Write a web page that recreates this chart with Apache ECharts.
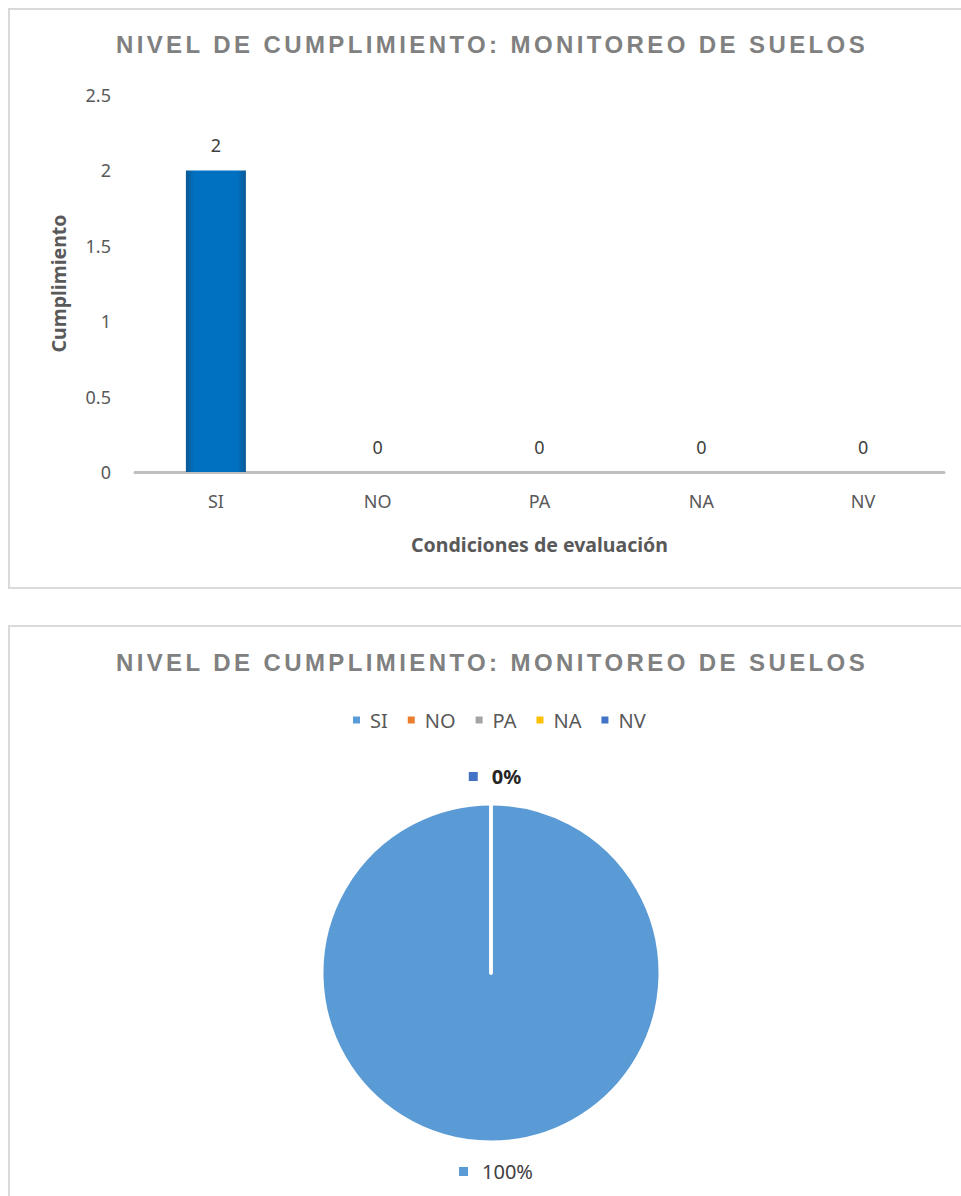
<!DOCTYPE html>
<html><head><meta charset="utf-8">
<script src="https://cdn.jsdelivr.net/npm/echarts@6/dist/echarts.min.js"></script>
<style>
html,body{margin:0;padding:0;background:#fff;width:961px;height:1196px;overflow:hidden}
#bar{position:absolute;left:0;top:0;width:961px;height:600px}
#pie{position:absolute;left:0;top:600px;width:961px;height:596px}
</style></head>
<body><div id="bar"></div><div id="pie"></div>
<script>
const TITLE = 'NIVEL DE CUMPLIMIENTO: MONITOREO DE SUELOS';
const categories = ['SI', 'NO', 'PA', 'NA', 'NV'];
const values = [2, 0, 0, 0, 0];
const yAxisMin = 0, yAxisMax = 2.5, yAxisStep = 0.5;
const xAxisName = 'Condiciones de evaluación';
const yAxisName = 'Cumplimiento';
const pieColors = ['#5b9bd5', '#ed7d31', '#a5a5a5', '#ffc000', '#4472c4'];
const pieLabelShown = [true, false, false, false, true];

const FONT = 'Noto Sans';
const TITLE_FONT = '"Liberation Sans Narrow", "Liberation Sans", sans-serif';

const bar = echarts.init(document.getElementById('bar'), null, {renderer: 'svg'});
bar.setOption({
  animation: false,
  textStyle: {fontFamily: FONT},
  title: {
    text: TITLE, left: 492, top: 32, padding: 0, textAlign: 'center',
    textStyle: {fontFamily: TITLE_FONT, fontSize: 24, fontWeight: 'bold', color: '#808080'}
  },
  graphic: [{type: 'rect', silent: true, z: -10,
    shape: {x: 9, y: 9, width: 1000, height: 579},
    style: {fill: 'none', stroke: '#d9d9d9', lineWidth: 2}}],
  grid: {left: 135, right: 17, top: 95, bottom: 128},
  xAxis: {
    type: 'category', data: categories,
    axisLine: {lineStyle: {color: '#bfbfbf', width: 3}},
    axisTick: {show: false},
    axisLabel: {fontSize: 18, color: '#595959', margin: 20, fontFamily: FONT},
    name: xAxisName, nameLocation: 'middle', nameGap: 62,
    nameTextStyle: {fontSize: 19.5, fontWeight: 'bold', color: '#595959', fontFamily: FONT}
  },
  yAxis: {
    type: 'value', min: yAxisMin, max: yAxisMax, interval: yAxisStep,
    axisLine: {show: false}, axisTick: {show: false}, splitLine: {show: false},
    axisLabel: {fontSize: 18, color: '#595959', margin: 24, fontFamily: FONT},
    name: yAxisName, nameLocation: 'middle', nameGap: 67, nameRotate: 90,
    nameTextStyle: {fontSize: 19.5, fontWeight: 'bold', color: '#595959', fontFamily: FONT}
  },
  series: [{
    type: 'bar', data: values, barWidth: 60,
    itemStyle: {
      color: new echarts.graphic.LinearGradient(0, 0, 1, 0, [
        {offset: 0, color: '#0b5896'},
        {offset: 0.14, color: '#0070c0'},
        {offset: 0.86, color: '#0070c0'},
        {offset: 1, color: '#0b5896'}
      ])
    },
    label: {show: true, position: 'top', distance: 16, fontSize: 18, color: '#404040', fontFamily: FONT},
    emphasis: {disabled: true}
  }]
});

const pie = echarts.init(document.getElementById('pie'), null, {renderer: 'svg'});
const rich = {
  t: {fontSize: 20, color: '#404040', padding: [0, 0, 0, 14], fontFamily: FONT},
  tb: {fontSize: 20, color: '#262626', fontWeight: 'bold', padding: [0, 0, 0, 14], fontFamily: FONT}
};
pieColors.forEach((c, i) => { rich['m' + i] = {width: 9, height: 9, backgroundColor: c}; });
pie.setOption({
  animation: false,
  textStyle: {fontFamily: FONT},
  title: {
    text: TITLE, left: 492, top: 50, padding: 0, textAlign: 'center',
    textStyle: {fontFamily: TITLE_FONT, fontSize: 24, fontWeight: 'bold', color: '#808080'}
  },
  graphic: [{type: 'rect', silent: true, z: -10,
    shape: {x: 9, y: 26, width: 1000, height: 600},
    style: {fill: 'none', stroke: '#d9d9d9', lineWidth: 2}}],
  legend: {
    data: categories, left: 351, top: 110, padding: 0,
    icon: 'rect', itemWidth: 9, itemHeight: 9, itemGap: 18,
    textStyle: {fontSize: 20, color: '#595959', fontFamily: FONT, padding: [0, 0, 0, 4]}
  },
  series: [{
    type: 'pie', center: [491, 373], radius: 169, startAngle: 90, clockwise: true,
    avoidLabelOverlap: false,
    itemStyle: {borderColor: '#ffffff', borderWidth: 3},
    labelLine: {show: false},
    emphasis: {disabled: true},
    data: categories.map((c, i) => ({
      name: c, value: values[i],
      itemStyle: {color: pieColors[i]},
      label: {show: pieLabelShown[i]}
    })),
    label: {
      position: 'outside',
      formatter: p => '{m' + p.dataIndex + '|}{' + (p.value === 0 ? 'tb' : 't') + '|' + p.percent + '%}',
      rich: rich
    },
    labelLayout: function (p) {
      const r = p.rect;
      const cx = r.x + r.width / 2;
      if (p.dataIndex === 0) {
        return {x: cx + 5, y: r.y + r.height + 28, align: 'center', verticalAlign: 'middle'};
      }
      return {x: cx + 4, y: r.y - 26, align: 'center', verticalAlign: 'middle'};
    }
  }]
});

document.querySelectorAll('svg text').forEach(t => {
  if (t.textContent === TITLE) t.style.letterSpacing = '3.4px';
});
</script>
</body></html>
